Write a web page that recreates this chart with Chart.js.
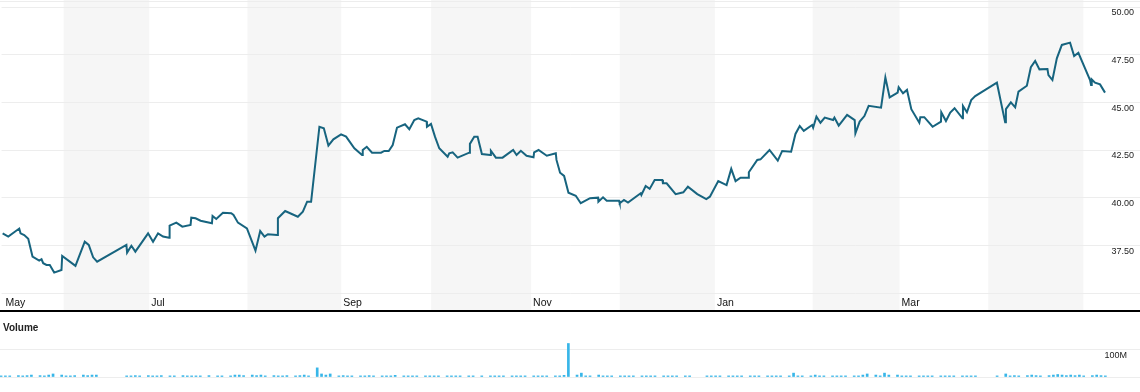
<!DOCTYPE html>
<html>
<head>
<meta charset="utf-8">
<script src="https://cdn.jsdelivr.net/npm/chart.js@4.4.1/dist/chart.umd.min.js"></script>
<style>
  html, body { margin: 0; padding: 0; background: #fff; }
  canvas { display: block; }
</style>
</head>
<body>
<canvas id="price" width="1140" height="312"></canvas>
<canvas id="vol" width="1140" height="80"></canvas>
<script>
// ---- Data (x = trading-day index) ----
const priceDay = [
  0.0, 1.3, 3.84, 4.14, 4.99, 5.92, 6.91, 8.46, 8.99, 9.38, 10.14, 10.9, 11.92, 13.61, 13.77, 16.84,
  18.99, 19.91, 20.93, 21.85, 28.62, 28.78, 29.77, 30.69, 33.63, 34.78, 35.94, 37.09, 38.48, 38.61,
  40.16, 41.55, 43.46, 43.62, 44.62, 45.77, 48.4, 48.54, 49.4, 50.94, 52.86, 53.39, 54.41, 56.49,
  58.47, 59.56, 60.55, 61.34, 63.48, 63.65, 65.33, 68.26, 69.42, 70.41, 71.33, 73.25, 74.27, 75.33,
  76.48, 78.26, 79.42, 81.33, 83.11, 83.27, 84.2, 85.42, 87.5, 88.26, 89.28, 90.2, 91.19, 93.04,
  94.04, 95.19, 96.11, 98.05, 98.12, 99.05, 99.97, 100.96, 102.9, 103.27, 104.06, 105.21, 107.89,
  108.05, 109.05, 109.83, 110.82, 112.74, 112.9, 114.06, 115.6, 118.05, 118.84, 119.83, 121.15,
  122.76, 122.9, 123.92, 125.83, 127.91, 128.07, 128.9, 129.83, 130.84, 132.53, 133.68, 135.83,
  137.68, 137.77, 138.83, 139.69, 142.53, 142.69, 143.68, 144.61, 147.54, 147.7, 148.69, 149.62,
  150.77, 152.55, 152.69, 153.54, 155.62, 157.4, 158.46, 160.63, 162.71, 163.54, 165.48, 167.4,
  168.48, 169.48, 170.63, 172.41, 172.55, 174.49, 175.25, 177.33, 179.24, 180.26, 182.33, 183.33,
  184.32, 185.25, 187.19, 187.42, 188.18, 189.11, 190.1, 192.04, 192.34, 193.33, 195.27, 197.03,
  197.19, 198.18, 199.27, 200.26, 203.12, 204.12, 205.11, 206.96, 207.19, 208.2, 209.12, 210.12,
  211.97, 212.2, 213.12, 215.04, 216.98, 217.05, 218.13, 219.12, 220.12, 221.96, 222.06, 222.98,
  223.97, 224.9, 229.91, 231.82, 231.99, 233.14, 234.14, 234.9, 236.84, 237.76, 238.76, 239.75,
  241.6, 241.83, 242.75, 243.77, 244.93, 246.83, 247.77, 248.75, 251.45, 251.68, 251.84, 252.6,
  253.76, 254.91
];
const priceClose = [
  38.13, 37.96, 38.38, 38.13, 38.04, 37.85, 36.91, 36.70, 36.77, 36.56, 36.47, 36.47, 36.07, 36.21, 36.94, 36.42,
  37.69, 37.52, 36.87, 36.64, 37.52, 37.12, 37.48, 37.17, 38.13, 37.69, 38.13, 37.96, 37.90, 38.53,
  38.69, 38.48, 38.57, 38.95, 38.92, 38.79, 38.66, 39.04, 38.88, 39.21, 39.18, 39.09, 38.69, 38.39,
  37.22, 38.25, 37.96, 38.08, 38.04, 38.92, 39.30, 39.00, 39.27, 39.79, 39.79, 43.72, 43.64, 42.73,
  43.06, 43.32, 43.20, 42.59, 42.24, 42.50, 42.67, 42.36, 42.36, 42.45, 42.45, 42.76, 43.67, 43.85,
  43.59, 44.07, 44.16, 43.99, 43.72, 43.87, 43.20, 42.59, 42.15, 42.33, 42.38, 42.10, 42.36,
  42.82, 43.20, 43.20, 42.29, 42.24, 42.46, 42.10, 42.10, 42.50, 42.24, 42.46, 42.20,
  42.12, 42.38, 42.50, 42.20, 42.33, 41.98, 41.31, 41.14, 40.26, 40.10, 39.71, 39.97,
  40.00, 39.79, 40.02, 39.84, 39.84, 39.71, 39.88, 39.74, 40.23, 40.14, 40.61, 40.46,
  40.93, 40.93, 40.75, 40.75, 40.18, 40.28, 40.58, 40.19, 39.93, 40.05, 40.87, 40.66,
  41.51, 40.87, 41.05, 41.05, 41.33, 41.98, 42.01, 42.50, 41.94, 42.45, 42.41, 43.34,
  43.76, 43.50, 43.81, 43.67, 44.25, 43.93, 44.20, 44.07, 44.20, 43.78, 44.34, 44.07,
  43.38, 43.99, 44.28, 44.82, 44.72, 46.31, 45.26, 45.51, 45.79, 45.47, 45.65, 44.64,
  43.93, 44.22, 44.22, 43.72, 43.99, 44.48, 44.02, 44.46, 44.69, 44.16, 44.81, 44.48,
  45.12, 45.33, 46.03, 43.95, 44.64, 45.00, 44.74, 45.56, 45.87, 46.84, 47.17, 46.73,
  46.75, 46.43, 46.17, 47.31, 48.01, 48.13, 47.43, 47.60, 46.17, 45.91, 46.20, 46.03,
  45.94, 45.51
];
// Volume in millions, one entry per trading day (null = no bar shown)
const volume = [
  4, 4, 4, null, 5, 4, 5, 7, null, 5,
  4, 7, 11, null, 7, 4, 4, 5, null, 7,
  5, 7, 7, null, null, null, null, null, null, 4,
  4, 5, 4, null, 5, 4, 4, 5, null, 4,
  4, null, 5, 4, 4, 4, 4, null, 5, null,
  4, 4, null, 4, 7, 7, 5, null, 7, 5,
  7, 4, null, 5, 4, 4, 5, null, 4, 5,
  7, 4, null, 33, 11, 7, 11, null, 4, 5,
  4, 4, null, 4, 4, 5, 4, null, 4, 4,
  4, 6, null, 4, 4, 4, 4, null, 4, 4,
  4, 4, null, 4, 4, 4, 4, null, 4, 4,
  null, 4, null, 4, 4, 4, 4, null, 4, 4,
  4, 4, null, 4, 4, 4, 4, null, 4, 4,
  6, 121, null, 7, 14, 4, 4, null, 7, 4,
  4, 4, null, 4, 4, 4, 4, null, 4, 4,
  4, 4, null, 4, 4, 4, 4, null, 4, 4,
  null, null, null, 4, 4, 4, 4, null, 4, 4,
  4, 4, null, 4, 4, 4, null, 4, 4, 4,
  4, null, 4, 14, 4, 4, null, 4, 7, 4,
  4, null, 4, 4, 4, 4, null, 4, 4, 7,
  11, null, 7, 4, 14, 7, null, 7, 4, 4,
  4, null, 4, 4, 4, 4, null, 4, 4, 4,
  4, null, 4, 4, 4, 4, null, null, null, null,
  4, null, 11, 4, 5, 4, null, 5, 7, 5,
  4, null, 5, 7, 9, 7, 5, 7, 5, 7,
  4, null, 5, 7, 5, 4
];
// Month boundaries (trading-day index) and names
const monthBounds = [0.2, 14.1, 33.9, 56.6, 78.3, 99.1, 122.2, 142.7, 164.7, 187.3, 207.4, 227.9, 249.9];
const monthNames  = ['May', 'Jun', 'Jul', 'Aug', 'Sep', 'Oct', 'Nov', 'Dec', 'Jan', 'Feb', 'Mar', 'Apr', 'May'];
const priceTicks  = [35, 37.5, 40, 42.5, 45, 47.5, 50];
const volumeTicks = [0, 100];

// ---- Derived structures ----
const X_MIN = -0.25, X_MAX = 263;
const FONT = "'Liberation Sans', Arial, sans-serif";
const labeledIdx = monthBounds.map((b, i) => i).filter(i => i % 2 === 0 && i < monthBounds.length - 1);
const shadedIdx = monthBounds.map((b, i) => i).filter(i => i % 2 === 1 && i < monthBounds.length - 1);

const bandsPlugin = {
  id: 'bands',
  beforeDraw(chart) {
    const { ctx } = chart;
    const xs = chart.scales.x;
    ctx.save();
    ctx.fillStyle = '#f6f6f6';
    shadedIdx.forEach(i => {
      const x0 = xs.getPixelForValue(monthBounds[i]);
      const x1 = xs.getPixelForValue(monthBounds[i + 1]);
      ctx.fillRect(x0, 0, x1 - x0, chart.height - 2);
    });
    ctx.restore();
  },
  afterDraw(chart) {
    const { ctx } = chart;
    ctx.save();
    ctx.fillStyle = '#ededed';
    ctx.fillRect(0, 1, chart.width, 1);
    ctx.fillStyle = '#000';
    ctx.fillRect(0, chart.height - 2, chart.width, 2);
    ctx.restore();
  }
};

const volTitlePlugin = {
  id: 'volTitle',
  afterDraw(chart) {
    const { ctx } = chart;
    ctx.save();
    ctx.font = 'bold 10px ' + FONT;
    ctx.fillStyle = '#222';
    ctx.textBaseline = 'alphabetic';
    ctx.textAlign = 'left';
    ctx.fillText('Volume', 3, 18.5);
    ctx.restore();
  }
};

new Chart(document.getElementById('price'), {
  type: 'line',
  data: {
    datasets: [{
      data: priceDay.map((d, i) => ({ x: d, y: priceClose[i] })),
      borderColor: '#17647f',
      borderWidth: 2,
      pointRadius: 0,
      tension: 0,
      fill: false
    }]
  },
  options: {
    responsive: false,
    animation: false,
    events: [],
    layout: { padding: { top: 7, left: 0, right: 0, bottom: 0 } },
    plugins: { legend: { display: false }, tooltip: { enabled: false } },
    scales: {
      x: {
        type: 'linear', min: X_MIN, max: X_MAX, offset: false,
        grid: { display: false, drawTicks: false }, border: { display: false },
        afterBuildTicks: s => { s.ticks = labeledIdx.map(i => ({ value: monthBounds[i] })); },
        afterFit: s => { s.height = 19; },
        ticks: {
          autoSkip: false, maxRotation: 0, minRotation: 0, align: 'start', labelOffset: 2, padding: 3.5,
          color: '#111', font: { family: FONT, size: 10.5 },
          callback: (v, idx) => monthNames[labeledIdx[idx]]
        }
      },
      y: {
        type: 'linear', position: 'right', min: 35, max: 50,
        afterBuildTicks: s => { s.ticks = priceTicks.map(v => ({ value: v })); },
        afterFit: s => { s.width = 0; },
        grid: { color: '#ededed', drawTicks: false, lineWidth: 1 },
        border: { display: false },
        ticks: {
          mirror: true, padding: -6, labelOffset: 6, color: '#222',
          font: { family: FONT, size: 9 },
          callback: v => (v === 35 ? '' : Number(v).toFixed(2))
        }
      }
    }
  },
  plugins: [bandsPlugin]
});

new Chart(document.getElementById('vol'), {
  type: 'bar',
  data: {
    datasets: [{
      data: volume.map((v, i) => ({ x: i, y: v })),
      backgroundColor: '#38b6e8',
      borderWidth: 0,
      barThickness: 2
    }]
  },
  options: {
    responsive: false,
    animation: false,
    events: [],
    layout: { padding: { top: 29, left: 0, right: 0, bottom: 15 } },
    plugins: { legend: { display: false }, tooltip: { enabled: false } },
    scales: {
      x: { type: 'linear', min: X_MIN, max: X_MAX, offset: false, display: false },
      y: {
        type: 'linear', position: 'right', min: 0, max: 130,
        afterBuildTicks: s => { s.ticks = volumeTicks.map(v => ({ value: v })); },
        afterFit: s => { s.width = 0; },
        grid: { color: '#ededed', drawTicks: false, lineWidth: 1 },
        border: { display: false },
        ticks: {
          mirror: true, padding: -13, labelOffset: 6, color: '#222',
          font: { family: FONT, size: 9 },
          callback: v => (v === 100 ? '100M' : '')
        }
      }
    }
  },
  plugins: [volTitlePlugin]
});
</script>
</body>
</html>
